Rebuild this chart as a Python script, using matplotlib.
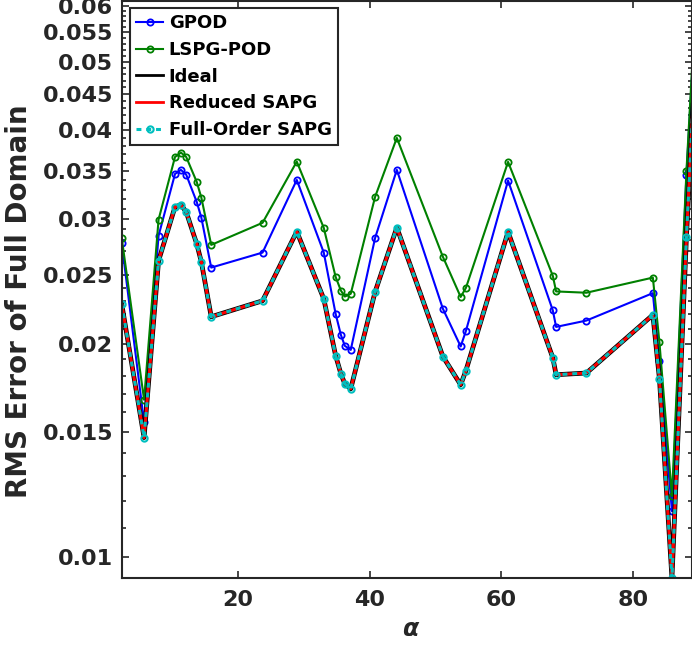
import numpy as np
import matplotlib
matplotlib.use('Agg')
import matplotlib.pyplot as plt
from matplotlib.ticker import FixedLocator, FuncFormatter

# Data
alpha = [2.3, 5.7, 7.9, 10.4, 11.3, 12.1, 13.7, 14.4, 15.9, 23.7, 28.9, 33.0, 34.8, 35.6,
         36.2, 37.1, 40.8, 44.1, 51.1, 53.8, 54.6, 61.0, 67.8, 68.3, 72.9, 83.0, 84.0,
         85.9, 88.1, 90.0]

gpod_err = [0.02775, 0.0155, 0.0284, 0.03472, 0.03518, 0.03464, 0.0317, 0.03013, 0.02561,
            0.02689, 0.03405, 0.02689, 0.02204, 0.02058, 0.01986, 0.0196, 0.0282, 0.03518,
            0.0224, 0.01982, 0.02085, 0.03398, 0.02228, 0.02112, 0.02156, 0.02357, 0.01891,
            0.0116, 0.0346, 0.071]

lspg_err = [0.0282, 0.01667, 0.02993, 0.03669, 0.03721, 0.03669, 0.03383, 0.03215, 0.02757,
            0.02962, 0.03614, 0.02914, 0.02485, 0.02377, 0.02331, 0.02352, 0.03223, 0.03903,
            0.02652, 0.02328, 0.02398, 0.03611, 0.02493, 0.0237, 0.0236, 0.02479, 0.02008,
            0.01218, 0.0350, 0.074]

ideal_err = [0.02277, 0.01474, 0.02618, 0.0312, 0.0314, 0.03069, 0.02766, 0.02609, 0.02183,
             0.02299, 0.02879, 0.02314, 0.01924, 0.01814, 0.01755, 0.01727, 0.02367, 0.02917,
             0.01918, 0.0175, 0.01833, 0.02876, 0.0191, 0.01808, 0.01818, 0.02196, 0.01783,
             0.00934, 0.02827, 0.064]
reduced_sapg_err = list(ideal_err)
full_sapg_err = list(ideal_err)

y_major = [0.01, 0.015, 0.02, 0.025, 0.03, 0.035, 0.04, 0.045, 0.05, 0.055, 0.06]
x_major = [20, 40, 60, 80]

plt.rcParams['font.family'] = 'DejaVu Sans'
plt.rcParams['font.weight'] = 'bold'

dark = '#262626'
cyan = (0.0, 0.75, 0.75)

fig = plt.figure(figsize=(6.92, 6.51), dpi=100)
ax = fig.add_axes([121.7 / 692, 1 - 578 / 651, 570 / 692, 577 / 651])

ax.plot(alpha, gpod_err, color='#0000FF', lw=1.5, marker='o', ms=4.5, mfc='none',
        mew=1.3, label='GPOD')
ax.plot(alpha, lspg_err, color='#008000', lw=1.5, marker='o', ms=4.5, mfc='none',
        mew=1.3, label='LSPG-POD')
ax.plot(alpha, ideal_err, color='black', lw=3.4, label='Ideal')
ax.plot(alpha, reduced_sapg_err, color='#FF0000', lw=2.2, label='Reduced SAPG')
ax.plot(alpha, full_sapg_err, color=cyan, lw=2.2, ls=(0, (1.6, 1.6)), marker='o', ms=4.5,
        mfc='none', mew=1.5, label='Full-Order SAPG')

ax.set_yscale('log')
ax.set_xlim(2.3, 88.9)
ax.set_ylim(0.00934, 0.0609)

ax.yaxis.set_major_locator(FixedLocator(y_major))
ax.yaxis.set_major_formatter(FuncFormatter(lambda v, p: '%g' % v))
ax.yaxis.set_minor_locator(FixedLocator(np.arange(0.009, 0.0615, 0.001)))
ax.yaxis.set_minor_formatter(FuncFormatter(lambda v, p: ''))
ax.xaxis.set_major_locator(FixedLocator(x_major))

ax.tick_params(which='both', direction='in', top=True, right=True, colors=dark,
               labelsize=16, width=1.2)
ax.tick_params(which='major', length=5)
ax.tick_params(which='minor', length=3)
ax.tick_params(axis='y', pad=6)
ax.tick_params(axis='x', pad=9)
for lab in ax.get_xticklabels() + ax.get_yticklabels():
    lab.set_fontweight('bold')

for s in ax.spines.values():
    s.set_color(dark)
    s.set_linewidth(1.5)

ax.set_ylabel('RMS Error of Full Domain', fontsize=20, fontweight='bold', color=dark)
ax.yaxis.set_label_coords(-0.155, 0.48)
ax.set_xlabel(r'$\alpha$', fontsize=17, color=dark)
ax.xaxis.set_label_coords(0.507, -0.068)

leg = ax.legend(loc='upper left', bbox_to_anchor=(0.0146, 0.988), borderaxespad=0,
                prop={'weight': 'bold', 'size': 13}, frameon=True,
                fancybox=False, framealpha=1, edgecolor=dark, handlelength=1.5,
                handletextpad=0.3, borderpad=0.35, labelspacing=0.48)
leg.get_frame().set_linewidth(1.5)
for h in leg.get_lines()[2:4]:
    h.set_linewidth(2.0)

fig.savefig('out.png', dpi=100)
